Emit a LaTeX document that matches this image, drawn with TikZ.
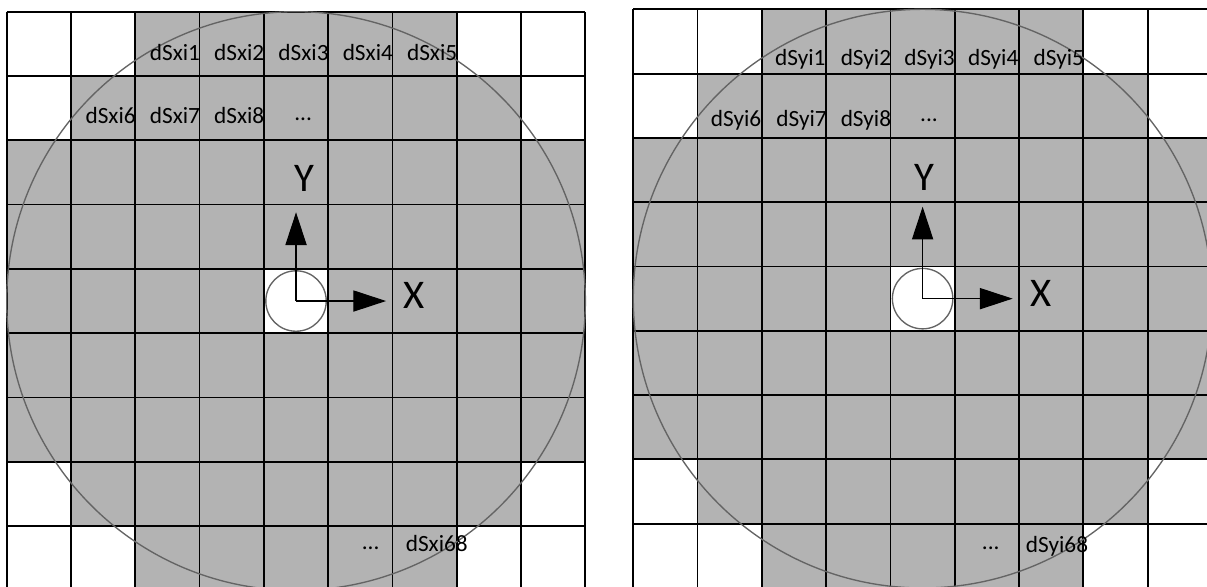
\documentclass[tikz,border=0pt]{standalone}
\usepackage{fontspec}
\setmainfont{Carlito}
\usetikzlibrary{arrows.meta}
\definecolor{cellgray}{RGB}{179,179,179}
\definecolor{rimgray}{RGB}{100,100,100}
\tikzstyle{gridline} = [draw=black, line width=0.8pt]
\tikzstyle{rim}      = [draw=rimgray, line width=0.6pt]
\tikzstyle{hole}     = [draw=rimgray, fill=white, line width=0.6pt]
\tikzstyle{cellname} = [anchor=west, inner sep=0pt, text height=0.7em, text depth=0pt,
                        font=\fontsize{10.3}{12}\selectfont]
\tikzstyle{dots}     = [inner sep=0pt, font=\fontsize{10.3}{12}\selectfont]
\tikzstyle{axis}     = [-{Triangle[length=5.1mm, width=3.3mm]}, line width=0.5pt]
\tikzstyle{axisname} = [inner sep=0pt, font=\fontsize{18}{20}\selectfont]

\begin{document}
\begin{tikzpicture}
    \useasboundingbox (0,0) rectangle (18.772,9.129);
    \clip (0,0) rectangle (18.772,9.129);

    % left panel: dSx
    \begin{scope}[shift={(0.104,-0.053)}]
        \fill[cellgray] (2,0) rectangle (7,9);
        \fill[cellgray] (1,1) rectangle (8,8);
        \fill[cellgray] (0,2) rectangle (9,7);
        \fill[white] (4,4) rectangle (5,5);
        \draw[gridline] (0,0) grid (9,9);
        \draw[rim] (4.5,4.5) circle (4.5);
        \draw[hole] (4.5,4.5) circle (0.47);

        \coordinate (oL) at (4.5,4.5);
        \coordinate (xL) at (5.9,4.5);
        \coordinate (yL) at (4.5,5.88);
        \draw[axis] (oL) -- (xL);
        \draw[axis] (oL) -- (yL);
        \node[axisname] (XL) at (6.33,4.58) {X};
        \node[axisname] (YL) at (4.63,6.41) {Y};

        \node[cellname] (sx1) at (2.22,8.37) {dSxi1};
        \node[cellname] (sx2) at (3.22,8.37) {dSxi2};
        \node[cellname] (sx3) at (4.22,8.37) {dSxi3};
        \node[cellname] (sx4) at (5.22,8.37) {dSxi4};
        \node[cellname] (sx5) at (6.22,8.37) {dSxi5};
        \node[cellname] (sx6) at (1.22,7.38) {dSxi6};
        \node[cellname] (sx7) at (2.22,7.38) {dSxi7};
        \node[cellname] (sx8) at (3.22,7.38) {dSxi8};
        \node[dots] (sxdotsA) at (4.61,7.33) {...};
        \node[dots] (sxdotsB) at (5.66,0.66) {...};
        \node[cellname] (sx68) at (6.2,0.72) {dSxi68};
    \end{scope}

    % right panel: dSy
    \begin{scope}[shift={(9.849,-0.016)}]
        \fill[cellgray] (2,0) rectangle (7,9);
        \fill[cellgray] (1,1) rectangle (8,8);
        \fill[cellgray] (0,2) rectangle (9,7);
        \fill[white] (4,4) rectangle (5,5);
        \draw[gridline] (0,0) grid (9,9);
        \draw[rim] (4.5,4.5) circle (4.5);
        \draw[hole] (4.5,4.5) circle (0.47);

        \coordinate (oR) at (4.5,4.5);
        \coordinate (xR) at (5.9,4.5);
        \coordinate (yR) at (4.5,5.93);
        \draw[axis] (oR) -- (xR);
        \draw[axis] (oR) -- (yR);
        \node[axisname] (XR) at (6.34,4.58) {X};
        \node[axisname] (YR) at (4.53,6.39) {Y};

        \node[cellname] (sy1) at (2.2,8.25) {dSyi1};
        \node[cellname] (sy2) at (3.22,8.25) {dSyi2};
        \node[cellname] (sy3) at (4.21,8.25) {dSyi3};
        \node[cellname] (sy4) at (5.2,8.25) {dSyi4};
        \node[cellname] (sy5) at (6.22,8.25) {dSyi5};
        \node[cellname] (sy6) at (1.2,7.3) {dSyi6};
        \node[cellname] (sy7) at (2.22,7.3) {dSyi7};
        \node[cellname] (sy8) at (3.22,7.3) {dSyi8};
        \node[dots] (sydotsA) at (4.6,7.27) {...};
        \node[dots] (sydotsB) at (5.56,0.62) {...};
        \node[cellname] (sy68) at (6.1,0.67) {dSyi68};
    \end{scope}
\end{tikzpicture}
\end{document}
